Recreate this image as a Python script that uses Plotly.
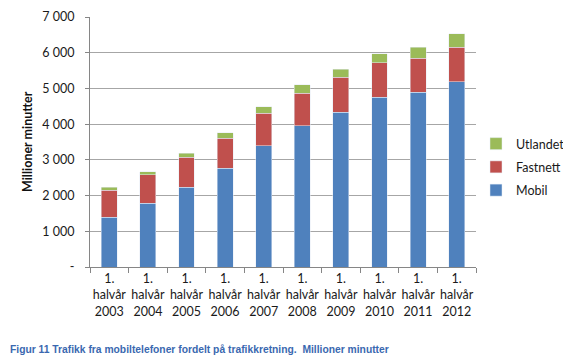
import plotly.graph_objects as go

categories = ["1.<br>halvår<br>2003", "1.<br>halvår<br>2004", "1.<br>halvår<br>2005",
              "1.<br>halvår<br>2006", "1.<br>halvår<br>2007", "1.<br>halvår<br>2008",
              "1.<br>halvår<br>2009", "1.<br>halvår<br>2010", "1.<br>halvår<br>2011",
              "1.<br>halvår<br>2012"]
mobil = [1400, 1780, 2230, 2760, 3400, 3950, 4340, 4750, 4900, 5190]
fastnett = [750, 800, 850, 850, 900, 920, 970, 970, 950, 960]
utlandet = [80, 90, 100, 150, 190, 230, 230, 250, 310, 380]

y_tickvals = [0, 1000, 2000, 3000, 4000, 5000, 6000, 7000]
y_ticktext = ["-", "1 000", "2 000", "3 000", "4 000", "5 000", "6 000", "7 000"]

FONT = "Lato, 'Open Sans', sans-serif"

fig = go.Figure()
fig.add_trace(go.Bar(name="Mobil", x=categories, y=mobil, marker_color="#4F81BD",
                     legendgroup="m", legendrank=3))
fig.add_trace(go.Bar(name="Fastnett", x=categories, y=fastnett, marker_color="#C0504D",
                     legendgroup="f", legendrank=2))
fig.add_trace(go.Bar(name="Utlandet", x=categories, y=utlandet, marker_color="#9BBB59",
                     legendgroup="u", legendrank=1))

fig.update_layout(
    width=563, height=361,
    barmode="stack", bargap=0.59,
    paper_bgcolor="white", plot_bgcolor="white",
    margin=dict(l=90, r=87, t=17, b=94, autoexpand=False),
    font=dict(family=FONT, size=12, color="#1a1a1a"),
    legend=dict(traceorder="grouped", tracegroupgap=4, x=1.0, xanchor="left",
                y=0.552, yanchor="top",
                font=dict(size=12.5, family=FONT), bgcolor="rgba(0,0,0,0)"),
    xaxis=dict(showline=True, linecolor="#868686", linewidth=1, ticks="outside",
               tickson="boundaries", ticklen=5, tickcolor="#868686", tickangle=0,
               automargin=False,
               tickfont=dict(size=12.5, family=FONT), showgrid=False),
    yaxis=dict(range=[0, 7000], tickvals=y_tickvals, ticktext=y_ticktext,
               showline=True, linecolor="#868686", linewidth=1, ticks="outside",
               ticklen=4, tickcolor="#868686", showgrid=True, gridcolor="#A6A6A6",
               gridwidth=1, tickfont=dict(size=12.5, family=FONT), zeroline=False,
               automargin=False, ticklabelstandoff=8),
    annotations=[
        dict(text="<b>Millioner minutter</b>", textangle=-90, xref="paper", yref="paper",
             x=-0.163, xanchor="center", y=0.5, yanchor="middle", showarrow=False,
             font=dict(size=12.5, family=FONT, color="#111")),
        dict(text="<b>Figur 11 Trafikk fra mobiltelefoner fordelt på trafikkretning.  Millioner minutter</b>",
             xref="paper", yref="paper", x=-0.213, xanchor="left", y=-0.328, yanchor="middle",
             showarrow=False, font=dict(size=10.3, family="Liberation Sans, Arial", color="#3A68B0")),
    ],
)

fig.write_html("out.html", config={"displayModeBar": False},
               post_script="document.body.style.margin='0';document.body.style.overflow='hidden';")
